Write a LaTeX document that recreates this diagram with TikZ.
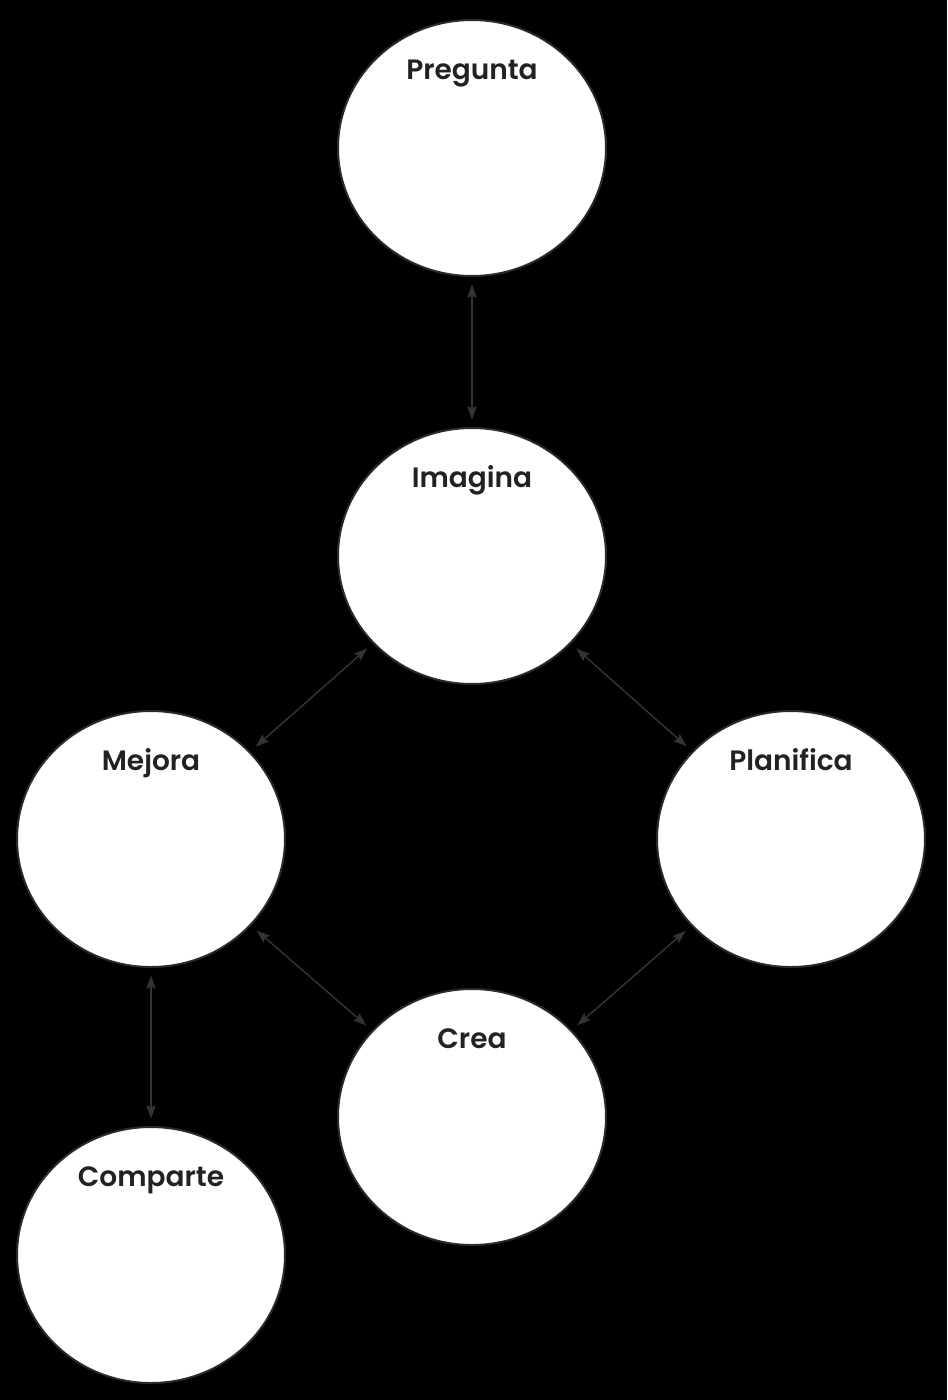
\documentclass[tikz,border=0pt]{standalone}
\usepackage{fontspec}
\setmainfont{Poppins}
\newfontfamily\lblfont{Poppins SemiBold}
\usetikzlibrary{shapes.geometric,arrows.meta}
\definecolor{conncol}{HTML}{333333}
\definecolor{txtcol}{HTML}{222222}
\definecolor{edgecol}{HTML}{2A2A2A}
\tikzset{
  stage/.style={ellipse,draw=edgecol,line width=1.5pt,fill=white,minimum width=201pt,minimum height=192pt,inner sep=0pt},
  lbl/.style={anchor=base,text=txtcol,font=\lblfont\fontsize{21}{24}\selectfont,inner sep=0pt},
  conn/.style={draw=conncol,line width=1.1pt,{Stealth[length=10pt,width=7pt,inset=1.5pt]}-{Stealth[length=10pt,width=7pt,inset=1.5pt]},shorten <=5.5pt,shorten >=5.5pt}
}
\begin{document}
\begin{tikzpicture}[x=0.75pt,y=-0.75pt]
\fill[black] (0,0) rectangle (947,1400);
\useasboundingbox (0,0) rectangle (947,1400);
\node[stage] (p) at (472,148) {};
\node[stage] (i) at (472,556) {};
\node[stage] (m) at (151,839) {};
\node[stage] (pl) at (791,839) {};
\node[stage] (c) at (472,1117) {};
\node[stage] (co) at (151,1255) {};
\node[lbl] (tp) at (472,79) {Pregunta};
\node[lbl] (ti) at (472,487) {Imagina};
\node[lbl] (tm) at (151,770) {Mejora};
\node[lbl] (tpl) at (791,770) {Planifica};
\node[lbl] (tc) at (472,1048) {Crea};
\node[lbl] (tco) at (151,1186) {Comparte};
\draw[conn] (p) -- (i);
\draw[conn] (i) -- (m);
\draw[conn] (i) -- (pl);
\draw[conn] (m) -- (c);
\draw[conn] (pl) -- (c);
\draw[conn] (m) -- (co);
\end{tikzpicture}
\end{document}
